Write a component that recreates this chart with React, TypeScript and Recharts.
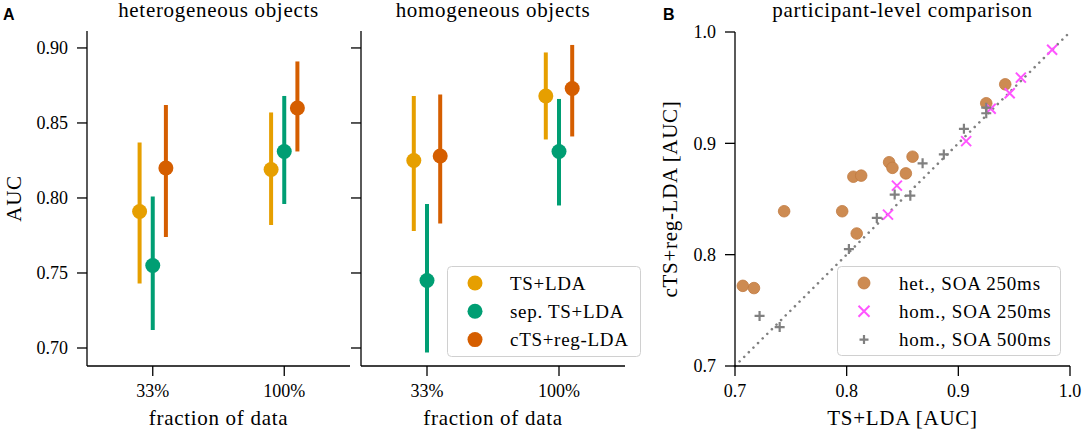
import React from "react";
import {
    ScatterChart,
    Scatter,
    XAxis,
    YAxis,
    ErrorBar,
    Legend,
    ReferenceLine,
} from "recharts";

// panel A: fraction of data used for training
const categories = ["33%", "100%"];
const methods = ["TS+LDA", "sep. TS+LDA", "cTS+reg-LDA"];
const methodColors = ["#e69f00", "#009e73", "#d55e00"];
const aucTicks = [0.7, 0.75, 0.8, 0.85, 0.9];

// heterogeneous objects (mean AUC + interval)
const hetTsLda = [0.791, 0.819];
const hetTsLdaLow = [0.743, 0.782];
const hetTsLdaHigh = [0.837, 0.857];
const hetSepTsLda = [0.755, 0.831];
const hetSepTsLdaLow = [0.712, 0.796];
const hetSepTsLdaHigh = [0.801, 0.868];
const hetCts = [0.82, 0.86];
const hetCtsLow = [0.774, 0.831];
const hetCtsHigh = [0.862, 0.891];

// homogeneous objects
const homTsLda = [0.825, 0.868];
const homTsLdaLow = [0.778, 0.839];
const homTsLdaHigh = [0.868, 0.897];
const homSepTsLda = [0.745, 0.831];
const homSepTsLdaLow = [0.697, 0.795];
const homSepTsLdaHigh = [0.796, 0.866];
const homCts = [0.828, 0.873];
const homCtsLow = [0.783, 0.841];
const homCtsHigh = [0.869, 0.902];

// panel B: participant-level TS+LDA (x) vs cTS+reg-LDA (y)
const hetX = [0.707, 0.717, 0.744, 0.796, 0.809, 0.806, 0.813, 0.838, 0.841, 0.853, 0.859, 0.925, 0.942];
const hetY = [0.772, 0.77, 0.839, 0.839, 0.819, 0.87, 0.871, 0.883, 0.878, 0.873, 0.888, 0.936, 0.953];
const hom250X = [0.837, 0.845, 0.907, 0.929, 0.946, 0.956, 0.984];
const hom250Y = [0.836, 0.862, 0.902, 0.931, 0.945, 0.959, 0.984];
const hom500X = [0.722, 0.74, 0.802, 0.827, 0.843, 0.857, 0.868, 0.887, 0.905, 0.925, 0.925];
const hom500Y = [0.745, 0.735, 0.805, 0.833, 0.854, 0.853, 0.882, 0.89, 0.913, 0.932, 0.927];
const participantTicks = [0.7, 0.8, 0.9, 1.0];
const diagonal = [0.7, 1.0];
const participantNames = ["het., SOA 250ms", "hom., SOA 250ms", "hom., SOA 500ms"];

const dodge = [-0.1, 0, 0.1];

const toRows = (mean: number[], low: number[], high: number[], k: number) =>
    mean.map((m, i) => ({ x: i + dodge[k], y: m, err: [m - low[i], high[i] - m] }));

const hetSeries = [
    toRows(hetTsLda, hetTsLdaLow, hetTsLdaHigh, 0),
    toRows(hetSepTsLda, hetSepTsLdaLow, hetSepTsLdaHigh, 1),
    toRows(hetCts, hetCtsLow, hetCtsHigh, 2),
];
const homSeries = [
    toRows(homTsLda, homTsLdaLow, homTsLdaHigh, 0),
    toRows(homSepTsLda, homSepTsLdaLow, homSepTsLdaHigh, 1),
    toRows(homCts, homCtsLow, homCtsHigh, 2),
];

const zip = (xs: number[], ys: number[]) => xs.map((x, i) => ({ x, y: ys[i] }));
const hetPoints = zip(hetX, hetY);
const hom250Points = zip(hom250X, hom250Y);
const hom500Points = zip(hom500X, hom500Y);

const SERIF = "'Liberation Serif', 'Times New Roman', serif";
const AXIS = { stroke: "#000", strokeWidth: 1.3 };
const TICK = { fontSize: 18, fill: "#000", fontFamily: SERIF };
const LABEL = { fontSize: 21, fill: "#000", fontFamily: SERIF };

const dot = (color: string) => (p: any) => (
    <circle cx={p.cx} cy={p.cy} r={7.5} fill={color} />
);

const brown = "#cd8b52";
const pink = "#ff55ff";
const grey = "#808080";

const Circle = ({ cx, cy, r = 5.8 }: any) => (
    <circle cx={cx} cy={cy} r={r} fill={brown} stroke="#c07a40" strokeWidth={0.8} />
);
const Cross = ({ cx, cy, s = 5 }: any) => (
    <path
        d={`M${cx - s},${cy - s}L${cx + s},${cy + s}M${cx - s},${cy + s}L${cx + s},${cy - s}`}
        stroke={pink}
        strokeWidth={2}
        fill="none"
    />
);
const Plus = ({ cx, cy, s = 5 }: any) => (
    <path
        d={`M${cx - s},${cy}L${cx + s},${cy}M${cx},${cy - s}L${cx},${cy + s}`}
        stroke={grey}
        strokeWidth={2.2}
        fill="none"
    />
);

const MethodLegend = () => (
    <svg width={195} height={92} style={{ display: "block" }}>
        <rect x={0.5} y={0.5} width={193} height={90} rx={4} fill="#fff" fillOpacity={0.85} stroke="#d0d0d0" />
        {methods.map((m, k) => (
            <g key={m}>
                <circle cx={28} cy={17 + k * 28.3} r={7.5} fill={methodColors[k]} />
                <text
                    x={63}
                    y={17 + k * 28.3}
                    dominantBaseline="central"
                    fontSize={19}
                    fontFamily={SERIF}
                    letterSpacing={0.7}
                    fill="#000"
                >
                    {m}
                </text>
            </g>
        ))}
    </svg>
);

const ParticipantLegend = () => {
    const markers = [Circle, Cross, Plus];
    return (
        <svg width={225} height={91} style={{ display: "block" }}>
            <rect x={0.5} y={0.5} width={223} height={89} rx={4} fill="#fff" fillOpacity={0.85} stroke="#d0d0d0" />
            {participantNames.map((n, k) => {
                const M = markers[k];
                return (
                    <g key={n}>
                        <M cx={27} cy={17 + k * 28.3} r={6} s={k === 2 ? 4.5 : 5.5} />
                        <text
                            x={62}
                            y={17 + k * 28.3}
                            dominantBaseline="central"
                            fontSize={19}
                            fontFamily={SERIF}
                            letterSpacing={0.8}
                            fill="#000"
                        >
                            {n}
                        </text>
                    </g>
                );
            })}
        </svg>
    );
};

const AucPanel = ({
    series,
    left,
    width,
    first,
}: {
    series: any[][];
    left: number;
    width: number;
    first: boolean;
}) => (
    <div style={{ position: "absolute", left, top: 0 }}>
        <ScatterChart
            width={width}
            height={434}
            margin={{ top: 31, right: first ? 10 : 20, left: 0, bottom: 0 }}
        >
            <XAxis
                type="number"
                dataKey="x"
                domain={[-0.5, 1.5]}
                ticks={[0, 1]}
                allowDataOverflow
                tickFormatter={(v) => categories[v]}
                axisLine={AXIS}
                tickLine={AXIS}
                tickSize={10}
                tickMargin={8}
                tick={TICK}
                height={68}
                label={{ value: "fraction of data", position: "insideBottom", offset: 9, ...LABEL }}
            />
            <YAxis
                type="number"
                dataKey="y"
                domain={[0.688, 0.9113]}
                ticks={aucTicks}
                allowDataOverflow
                width={first ? 87 : 11}
                tickFormatter={(v) => (first ? v.toFixed(2) : "")}
                axisLine={AXIS}
                tickLine={AXIS}
                tickSize={10}
                tickMargin={9}
                tick={TICK}
                label={first ? { value: "AUC", angle: -90, position: "center", dx: -30, ...LABEL } : undefined}
            />
            {series.map((data, k) => (
                <Scatter
                    key={methods[k]}
                    name={methods[k]}
                    data={data}
                    fill={methodColors[k]}
                    shape={dot(methodColors[k])}
                    isAnimationActive={false}
                >
                    <ErrorBar
                        dataKey="err"
                        direction="y"
                        width={0}
                        strokeWidth={4}
                        stroke={methodColors[k]}
                        isAnimationActive={false}
                    />
                </Scatter>
            ))}
            {!first && (
                <Legend
                    layout="vertical"
                    align="center"
                    verticalAlign="middle"
                    wrapperStyle={{ left: 97, top: 266 }}
                    content={() => <MethodLegend />}
                />
            )}
        </ScatterChart>
    </div>
);

const ParticipantPanel = () => (
    <div style={{ position: "absolute", left: 650, top: 0 }}>
        <ScatterChart width={434} height={434} margin={{ top: 32, right: 14, left: 0, bottom: 0 }}>
            <XAxis
                type="number"
                dataKey="x"
                domain={[0.7, 1.0]}
                ticks={participantTicks}
                allowDataOverflow
                tickFormatter={(v) => v.toFixed(1)}
                axisLine={AXIS}
                tickLine={AXIS}
                tickSize={10}
                tickMargin={8}
                tick={TICK}
                height={68}
                label={{ value: "TS+LDA [AUC]", position: "insideBottom", offset: 9, ...LABEL }}
            />
            <YAxis
                type="number"
                dataKey="y"
                domain={[0.7, 1.0]}
                ticks={participantTicks}
                allowDataOverflow
                width={85}
                tickFormatter={(v) => v.toFixed(1)}
                axisLine={AXIS}
                tickLine={AXIS}
                tickSize={10}
                tickMargin={9}
                tick={TICK}
                label={{ value: "cTS+reg-LDA [AUC]", angle: -90, position: "center", dx: -22.5, ...LABEL }}
            />
            <ReferenceLine
                segment={[
                    { x: diagonal[0], y: diagonal[0] },
                    { x: diagonal[1], y: diagonal[1] },
                ]}
                stroke={grey}
                strokeWidth={2.6}
                strokeDasharray="0.01 6.5"
                strokeLinecap="round"
            />
            <Scatter name={participantNames[0]} data={hetPoints} fill={brown} shape={(p: any) => <Circle cx={p.cx} cy={p.cy} />} isAnimationActive={false} />
            <Scatter name={participantNames[1]} data={hom250Points} fill={pink} shape={(p: any) => <Cross cx={p.cx} cy={p.cy} />} isAnimationActive={false} />
            <Scatter name={participantNames[2]} data={hom500Points} fill={grey} shape={(p: any) => <Plus cx={p.cx} cy={p.cy} />} isAnimationActive={false} />
            <Legend
                layout="vertical"
                align="center"
                verticalAlign="middle"
                wrapperStyle={{ left: 186.7, top: 266 }}
                content={() => <ParticipantLegend />}
            />
        </ScatterChart>
    </div>
);

const titleStyle: React.CSSProperties = {
    position: "absolute",
    top: 0,
    fontFamily: SERIF,
    fontSize: 21,
    lineHeight: "21px",
    letterSpacing: 0.7,
    textAlign: "center",
    whiteSpace: "nowrap",
};
const letterStyle: React.CSSProperties = {
    position: "absolute",
    top: 7,
    fontFamily: "'Liberation Sans', Arial, sans-serif",
    fontWeight: "bold",
    fontSize: 16,
    lineHeight: "16px",
};

export default function App() {
    return (
        <div
            style={{
                position: "absolute",
                left: 0,
                top: 0,
                width: 1084,
                height: 434,
                background: "#fff",
                fontFamily: SERIF,
                color: "#000",
            }}
        >
            <style>{`.recharts-label { letter-spacing: 0.7px; }`}</style>
            <AucPanel series={hetSeries} left={0} width={360} first={true} />
            <AucPanel series={homSeries} left={350} width={295} first={false} />
            <ParticipantPanel />
            <div style={{ ...titleStyle, left: 87, width: 263 }}>heterogeneous objects</div>
            <div style={{ ...titleStyle, left: 361, width: 264 }}>homogeneous objects</div>
            <div style={{ ...titleStyle, left: 735, width: 335 }}>participant-level comparison</div>
            <div style={{ ...letterStyle, left: 3 }}>A</div>
            <div style={{ ...letterStyle, left: 663 }}>B</div>
        </div>
    );
}
